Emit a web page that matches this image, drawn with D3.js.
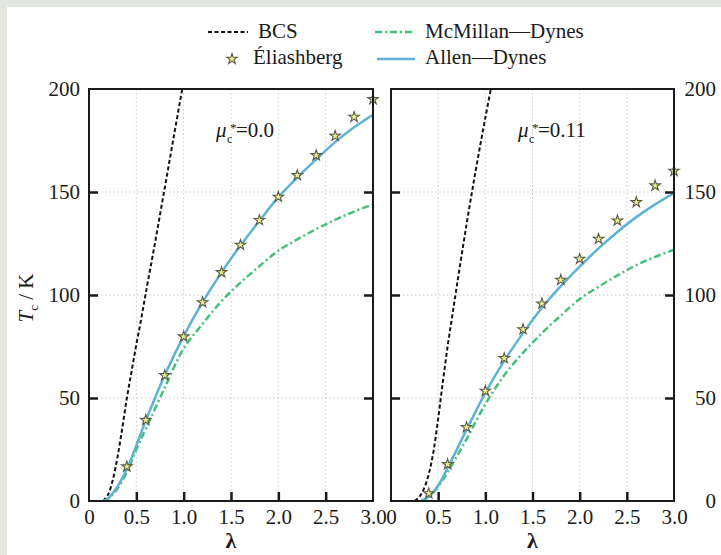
<!DOCTYPE html>
<html><head><meta charset="utf-8">
<script src="https://cdn.jsdelivr.net/npm/d3@7"></script>
<style>
body{margin:0;background:#fff}
svg{display:block}
text{font-family:"Liberation Serif","Times New Roman",serif;fill:#1a1a1a}
</style>
</head><body><svg id="c" width="721" height="555"></svg>
<script>
// ---------- DATA ----------
const xTicks = [0, 0.5, 1, 1.5, 2, 2.5, 3];
const yTicks = [0, 50, 100, 150, 200];
const muLabels = ["0.0", "0.11"];

// Eliashberg points
const elLambda = [0.4,0.6,0.8,1.0,1.2,1.4,1.6,1.8,2.0,2.2,2.4,2.6,2.8,3.0];
const elTcMu0   = [16.7,39.3,61,79.8,96.4,111,124.3,136.3,147.6,158.1,167.8,177.2,186.4,195];
const elTcMu011 = [3.7,17.8,35.8,53.4,69.3,83.3,95.8,107.3,117.5,127.2,136.1,145,153.1,160.2];

// Allen–Dynes
const adLambdaMu0 = [0.15,0.2,0.3,0.4,0.5,0.6,0.8,1.0,1.2,1.4,1.6,1.8,2.0,2.2,2.4,2.6,2.8,3.0];
const adTcMu0     = [0,1.2,7,15.5,27,39,61,80,96.5,111,124,136,147.5,157,165.8,174.2,181.4,187.5];
const adLambdaMu011 = [0.32,0.4,0.5,0.6,0.8,1.0,1.2,1.4,1.6,1.8,2.0,2.2,2.4,2.6,2.8,3.0];
const adTcMu011     = [0,2,7.5,16,34.5,52.5,68,81.5,93.8,104.3,113.8,122.6,130.6,137.8,144,149.5];

// McMillan–Dynes
const mmLambdaMu0 = [0.15,0.2,0.3,0.4,0.5,0.6,0.8,1.0,1.2,1.4,1.6,1.8,2.0,2.2,2.4,2.6,2.8,3.0];
const mmTcMu0     = [0,1,6,14,25,35,55,74,86,97,106,114,121.5,127,132,136.5,140.5,144];
const mmLambdaMu011 = [0.32,0.4,0.5,0.6,0.8,1.0,1.2,1.4,1.6,1.8,2.0,2.2,2.4,2.6,2.8,3.0];
const mmTcMu011     = [0,2,7,14,30,47,61,72,81.5,90,98,104,109.5,114.5,118.5,122];

// BCS
const bcsLambdaMu0 = [0.15,0.2,0.25,0.3,0.35,0.4,0.45,0.5,0.55,0.6,0.7,0.8,0.9,1.0];
const bcsTcMu0     = [0,3,10,21,35,50,63,76,88,101,126,152,178,204];
const bcsLambdaMu011 = [0.25,0.3,0.35,0.4,0.45,0.5,0.55,0.6,0.65,0.7,0.8,0.9,1.0,1.1];
const bcsTcMu011     = [0,2,6,13,24,40,58,75,90,105,134,161,186,210];

// ---------- DRAW ----------
const svg = d3.select("#c");
svg.append("rect").attr("x",0).attr("y",0).attr("width",721).attr("height",555).attr("fill","#e3e6de");
svg.append("rect").attr("x",7).attr("y",7).attr("width",714).attr("height",548).attr("fill","#fff");

const C_AD = "#5cb3d3", C_MM = "#45c07a", C_BCS = "#111";
const yTop = 89, yBottom = 501;
const y = d3.scaleLinear().domain([0,200]).range([yBottom, yTop]);

const panels = [
  {x0:89, x1:373, mu:muLabels[0], el:elTcMu0, adL:adLambdaMu0, ad:adTcMu0, mmL:mmLambdaMu0, mm:mmTcMu0, bL:bcsLambdaMu0, b:bcsTcMu0, side:"left"},
  {x0:391, x1:674, mu:muLabels[1], el:elTcMu011, adL:adLambdaMu011, ad:adTcMu011, mmL:mmLambdaMu011, mm:mmTcMu011, bL:bcsLambdaMu011, b:bcsTcMu011, side:"right"}
];

const fmtX = d => d === 0 ? "0" : d.toFixed(1);
const starSize = 34;

panels.forEach((p, i) => {
  const x = d3.scaleLinear().domain([0,3]).range([p.x0, p.x1]);
  const g = svg.append("g");
  const clipId = "clip" + i;
  svg.append("clipPath").attr("id", clipId).append("rect")
    .attr("x", p.x0).attr("y", yTop).attr("width", p.x1 - p.x0).attr("height", yBottom - yTop);

  const grid = g.append("g").attr("stroke","#c9c9c9").attr("stroke-width",1).attr("stroke-dasharray","1.5,2.5");
  grid.selectAll(".gx").data(xTicks.filter(d => d > 0 && d < 3)).enter().append("line")
    .attr("x1", d => x(d)).attr("x2", d => x(d)).attr("y1", yTop).attr("y2", yBottom);
  grid.selectAll(".gy").data(yTicks.filter(d => d > 0 && d < 200)).enter().append("line")
    .attr("y1", d => y(d)).attr("y2", d => y(d)).attr("x1", p.x0).attr("x2", p.x1);

  const plot = g.append("g").attr("clip-path", `url(#${clipId})`);
  const line = (xs, ys) => d3.line().curve(d3.curveCatmullRom.alpha(0.5)).x((d,k) => x(xs[k])).y(d => y(d))(ys);

  plot.append("path").attr("d", line(p.bL, p.b)).attr("fill","none").attr("stroke",C_BCS)
    .attr("stroke-width",2).attr("stroke-dasharray","4,2.5");
  plot.append("path").attr("d", line(p.mmL, p.mm)).attr("fill","none").attr("stroke",C_MM)
    .attr("stroke-width",2.5).attr("stroke-dasharray","7,3,2,3");
  plot.append("path").attr("d", line(p.adL, p.ad)).attr("fill","none").attr("stroke",C_AD)
    .attr("stroke-width",2.5);

  g.selectAll(".star").data(p.el).enter().append("path")
    .attr("d", d3.symbol(d3.symbolStar, starSize))
    .attr("transform", (d,k) => `translate(${x(elLambda[k])},${y(d)})`)
    .attr("fill","#eeee8a").attr("stroke","#5a5a48").attr("stroke-width",1.1);

  g.append("rect").attr("x",p.x0).attr("y",yTop).attr("width",p.x1-p.x0).attr("height",yBottom-yTop)
    .attr("fill","none").attr("stroke","#1a1a1a").attr("stroke-width",2);

  const inner = yTicks.filter(d => d > 0 && d < 200);
  const tl = g.append("g").attr("transform",`translate(${p.x0},0)`)
    .call(d3.axisRight(y).tickValues(inner).tickSize(9).tickFormat(""));
  const tr = g.append("g").attr("transform",`translate(${p.x1},0)`)
    .call(d3.axisLeft(y).tickValues(inner).tickSize(9).tickFormat(""));
  const tb = g.append("g").attr("transform",`translate(0,${yBottom})`)
    .call(d3.axisTop(x).tickValues(xTicks.filter(d => d > 0 && d < 3)).tickSize(9).tickFormat(""));
  [tl,tr,tb].forEach(a => { a.select(".domain").remove(); a.selectAll("line").attr("stroke","#1a1a1a").attr("stroke-width",2.5); });

  const xl = g.append("g").attr("transform",`translate(0,${yBottom})`)
    .call(d3.axisBottom(x).tickValues(xTicks).tickSize(0).tickPadding(8).tickFormat(fmtX));
  xl.select(".domain").remove();
  xl.selectAll("text").attr("font-size",21).attr("font-family","Liberation Serif").attr("fill","#1a1a1a");

  if (p.side === "left") {
    const yl = g.append("g").attr("transform",`translate(${p.x0},0)`)
      .call(d3.axisLeft(y).tickValues(yTicks).tickSize(0).tickPadding(9));
    yl.select(".domain").remove();
    yl.selectAll("text").attr("font-size",21).attr("font-family","Liberation Serif").attr("fill","#1a1a1a");
  } else {
    const yl = g.append("g").attr("transform",`translate(716,0)`)
      .call(d3.axisLeft(y).tickValues(yTicks).tickSize(0).tickPadding(0));
    yl.select(".domain").remove();
    yl.selectAll("text").attr("font-size",21).attr("font-family","Liberation Serif").attr("fill","#1a1a1a");
  }

  g.append("text").attr("x",(p.x0+p.x1)/2).attr("y",548).attr("text-anchor","middle")
    .attr("font-size",22).attr("font-weight","bold").text("λ");

  const ax = p.x0 + 127, ay = 137;
  g.append("text").attr("x",ax).attr("y",ay).attr("font-size",21).attr("font-style","italic").text("μ");
  g.append("text").attr("x",ax+14).attr("y",ay-5).attr("font-size",13).text("*");
  g.append("text").attr("x",ax+11).attr("y",ay+6).attr("font-size",12).text("c");
  g.append("text").attr("x",ax+20).attr("y",ay).attr("font-size",21).text("=" + p.mu);
});

const yt = svg.append("text").attr("transform","translate(33,298) rotate(-90)").attr("text-anchor","middle").attr("font-size",21);
yt.append("tspan").attr("font-style","italic").text("T");
yt.append("tspan").attr("font-size",13).attr("dy",5).text("c");
yt.append("tspan").attr("dy",-5).text(" / K");

const lg = svg.append("g");
lg.append("line").attr("x1",208).attr("x2",248).attr("y1",32).attr("y2",32).attr("stroke",C_BCS).attr("stroke-width",2).attr("stroke-dasharray","4,2.5");
lg.append("text").attr("x",258).attr("y",38).attr("font-size",21).text("BCS");
lg.append("path").attr("d", d3.symbol(d3.symbolStar, starSize)).attr("transform","translate(232,59)")
  .attr("fill","#eeee8a").attr("stroke","#5a5a48").attr("stroke-width",1.1);
lg.append("text").attr("x",253).attr("y",64).attr("font-size",21).text("Éliashberg");
lg.append("line").attr("x1",375).attr("x2",415).attr("y1",32).attr("y2",32).attr("stroke",C_MM).attr("stroke-width",2.5).attr("stroke-dasharray","7,3,2,3");
lg.append("text").attr("x",425).attr("y",38).attr("font-size",21).text("McMillan—Dynes");
lg.append("line").attr("x1",377).attr("x2",415).attr("y1",59).attr("y2",59).attr("stroke",C_AD).attr("stroke-width",2.5);
lg.append("text").attr("x",425).attr("y",64).attr("font-size",21).text("Allen—Dynes");
</script></body></html>
